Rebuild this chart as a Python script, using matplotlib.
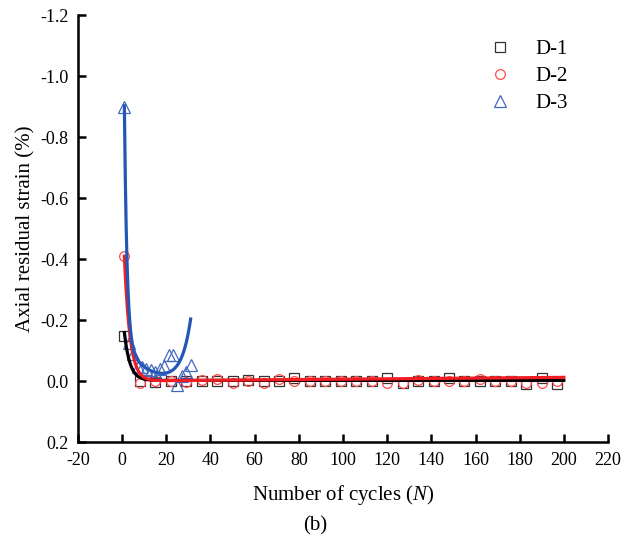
import numpy as np
import matplotlib
matplotlib.use('Agg')
import matplotlib.pyplot as plt

plt.rcParams['font.family'] = ['Liberation Serif', 'DejaVu Serif']
plt.rcParams['axes.unicode_minus'] = False
plt.rcParams['mathtext.fontset'] = 'custom'
plt.rcParams['mathtext.it'] = 'Liberation Serif:italic'

# measured points (cycles N, axial residual strain %)
cycles = [1, 8, 15, 22, 29, 36, 43, 50, 57, 64, 71, 78, 85, 92, 99, 106, 113,
          120, 127, 134, 141, 148, 155, 162, 169, 176, 183, 190, 197]
d1_strain = [-0.148, 0.0, 0.002, 0.0, 0.0, 0.0, 0.0, 0.0, -0.002, 0.0, 0.0, -0.01,
             0.0, 0.0, 0.0, 0.0, 0.0, -0.01, 0.005, 0.0, 0.0, -0.01, 0.0, 0.0,
             0.0, 0.0, 0.01, -0.01, 0.01]
d2_strain = [-0.41, 0.005, 0.0, 0.0, 0.003, -0.002, -0.005, 0.005, 0.0, 0.005,
             -0.005, 0.0, 0.0, 0.0, 0.0, 0.0, 0.0, 0.005, 0.008, -0.003, 0.0, 0.0,
             0.0, -0.005, 0.0, 0.0, 0.005, 0.005, 0.0]
d3_cycles = [1, 3, 5, 7, 9, 11, 13, 15, 17, 19, 21, 23, 25, 27, 29, 31]
d3_strain = [-0.90, -0.125, -0.09, -0.045, -0.045, -0.04, -0.035, -0.03, -0.04,
             -0.05, -0.085, -0.085, 0.012, -0.015, -0.03, -0.052]

# fitted curve parameters
d1_fit = (0.234, 0.40, -0.002)
d2_fit = (0.61, 0.40, 0.00006)
d3_fit = (1.8, 0.85, 0.15, 0.12, 8.6e-5, 0.25)

x_ticks = list(range(-20, 221, 20))
y_ticks = [-1.2, -1.0, -0.8, -0.6, -0.4, -0.2, 0.0, 0.2]

fig = plt.figure(figsize=(6.3, 5.38), dpi=100)
ax = fig.add_axes([0.1238, 0.1784, 0.8413, 0.7937])

# fit lines
xf = np.linspace(1, 200, 600)
a, b, c = d1_fit
ax.plot(xf, -a * np.exp(-b * xf) + c, color='black', lw=2.3, zorder=3)
a, b, k = d2_fit
ax.plot(xf, -a * np.exp(-b * xf) - k * xf, color='#f01e23', lw=2.3, zorder=4)
x3 = np.linspace(1, 31, 300)
a1, b1, a2, b2, a3, b3 = d3_fit
ax.plot(x3, -(a1 * np.exp(-b1 * x3) + a2 * np.exp(-b2 * x3) + a3 * np.exp(b3 * x3)),
        color='#2356b5', lw=2.3, zorder=5)

# measured markers
ax.plot(cycles, d1_strain, 's', ms=7, mfc='none', mec='#333333', mew=0.9,
        label='D-1', zorder=2)
ax.plot(cycles, d2_strain, 'o', ms=7, mfc='none', mec='#ff4a4a', mew=0.9,
        label='D-2', zorder=2)
ax.plot(d3_cycles, d3_strain, '^', ms=8.5, mfc='none', mec='#4468c2', mew=0.9,
        label='D-3', zorder=2)

ax.set_xlim(-20, 220)
ax.set_ylim(0.2, -1.2)
ax.set_xticks(x_ticks)
ax.set_yticks(y_ticks)
ax.set_yticklabels(['%.1f' % v for v in y_ticks])

for s in ['top', 'right']:
    ax.spines[s].set_visible(False)
for s in ['left', 'bottom']:
    ax.spines[s].set_linewidth(1.8)
ax.tick_params(direction='in', length=6, width=1.8, labelsize=13, pad=7)

ax.set_xlabel('Number of cycles ($\\mathit{N}$)', fontsize=15, labelpad=10)
ax.set_ylabel('Axial residual strain (%)', fontsize=15, labelpad=3)

ax.legend(loc='upper left', bbox_to_anchor=(0.73, 0.976), frameon=False,
          fontsize=15, handletextpad=0.7, labelspacing=0.35, borderaxespad=0.3)

fig.text(0.5, 0.005, '(b)', ha='center', va='bottom', fontsize=15)

fig.savefig('out.png', dpi=100)
